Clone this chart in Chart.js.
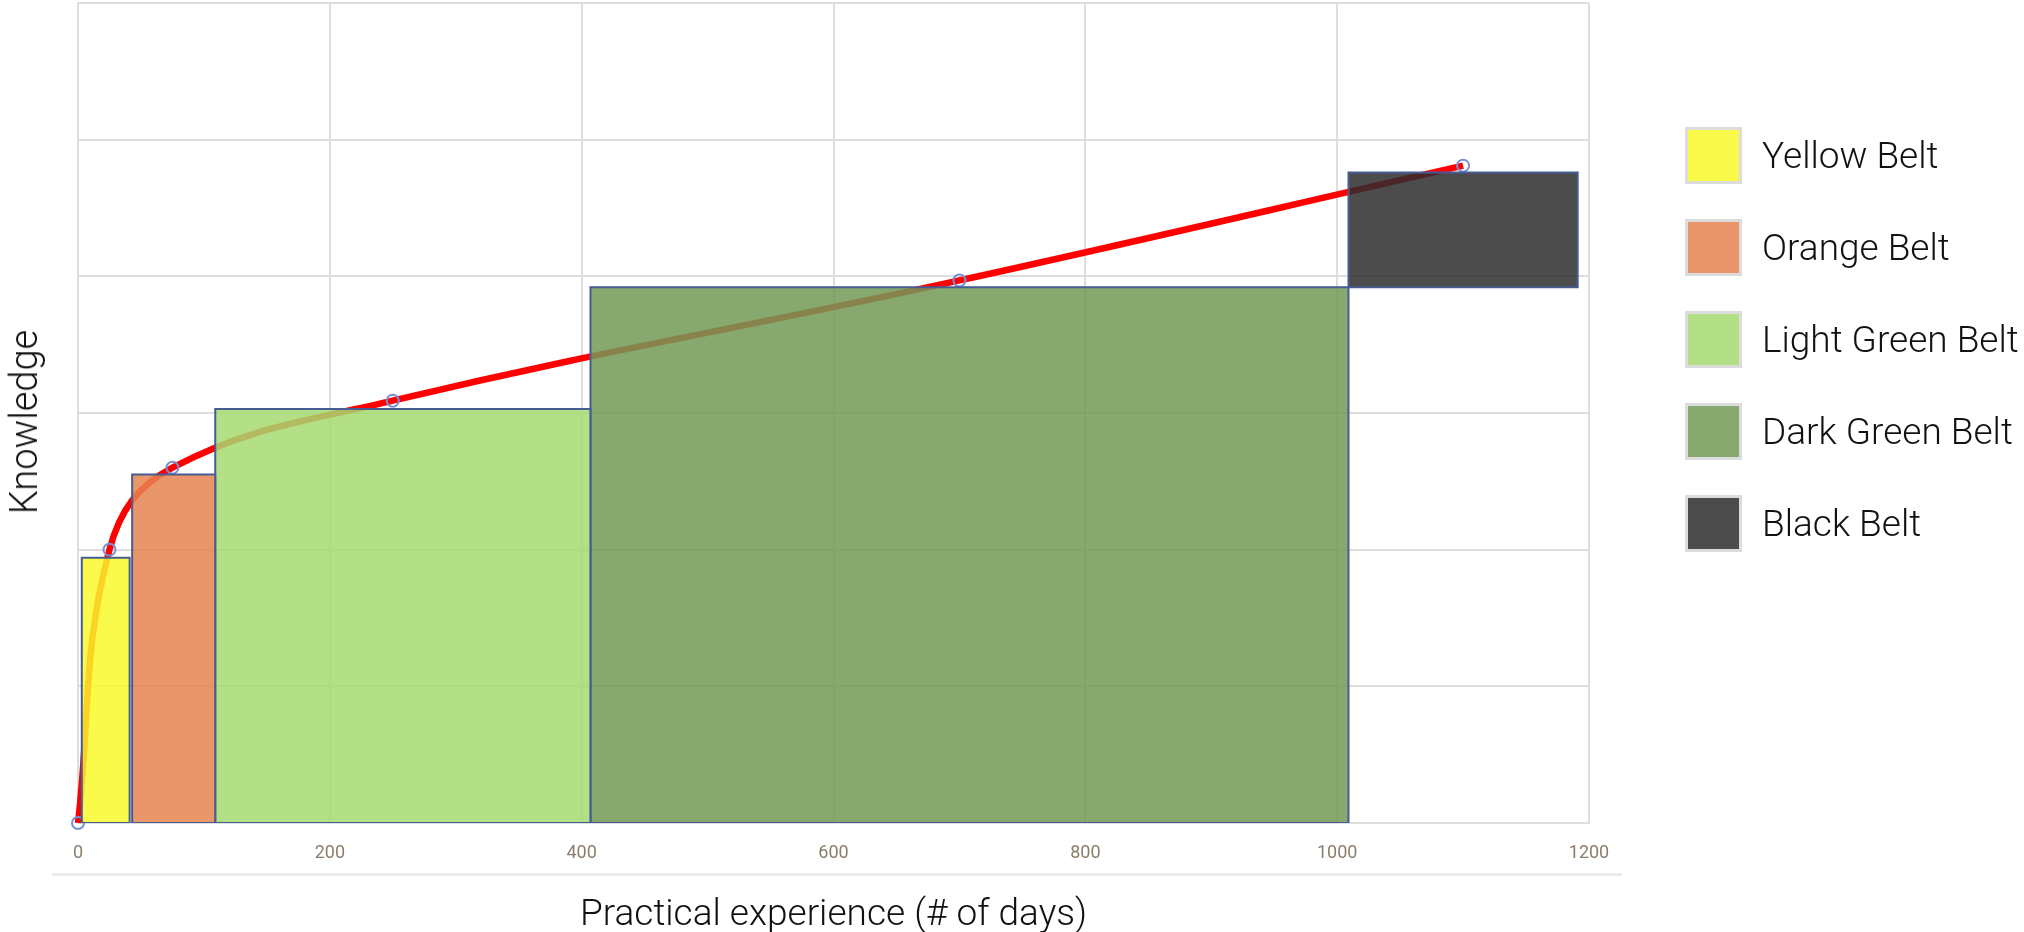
<!DOCTYPE html>
<html>
<head>
<meta charset="utf-8">
<script src="https://cdn.jsdelivr.net/npm/chart.js@4.4.1/dist/chart.umd.min.js"></script>
<style>
    html, body { margin: 0; padding: 0; background: #fff; }
    #wrap { position: relative; width: 2024px; height: 932px; overflow: hidden; }
    #beltChart { position: absolute; left: 0; top: -5px; }
    .rule { position: absolute; left: 52px; top: 873px; width: 1570px; height: 3px; background: #ebebeb; }
    .ytitle { position: absolute; left: 24px; top: 422px; transform: translate(-50%, -50%) rotate(-90deg);
              font-family: Roboto, sans-serif; font-weight: 300; font-size: 38px; color: #111; white-space: nowrap; }
    #legend { position: absolute; left: 1685px; top: 127px; font-family: Roboto, sans-serif; font-weight: 300; }
    .item { display: flex; align-items: center; height: 57px; margin-bottom: 35px; }
    .swatch { box-sizing: border-box; width: 57px; height: 57px; border: 3px solid #dcdcdc; margin-right: 20px; }
    .label { font-size: 37px; color: #111; white-space: nowrap; }
</style>
</head>
<body>
<div id="wrap">
    <div class="rule"></div>
    <canvas id="beltChart" width="2024" height="943"></canvas>
    <div class="ytitle">Knowledge</div>
    <div id="legend"></div>
</div>
<script>
// Belt blocks: x range in days, y range in knowledge units
const belts = ['Yellow Belt', 'Orange Belt', 'Light Green Belt', 'Dark Green Belt', 'Black Belt'];
const beltStart = [3, 43, 109, 407, 1009];
const beltEnd = [41, 109, 407, 1009, 1191];
const beltBottom = [0, 0, 0, 0, 39.2];
const beltTop = [19.4, 25.5, 30.3, 39.2, 47.6];
const beltColors = ['rgba(249,249,43,0.85)', 'rgba(229,133,80,0.85)', 'rgba(166,218,113,0.85)',
                    'rgba(114,154,87,0.85)', 'rgba(45,45,45,0.85)'];

// Knowledge curve
const experienceDays = [0, 25, 75, 250, 700, 1100];
const knowledge = [0, 20, 26, 30.9, 39.7, 48.1];

// Axis ticks
const xTicks = [0, 200, 400, 600, 800, 1000, 1200];

document.addEventListener('DOMContentLoaded', function() {
    const datasets = belts.map(function(name, i) {
        const pts = [
            { x: beltStart[i], y: beltBottom[i] },
            { x: beltStart[i], y: beltTop[i] },
            { x: beltEnd[i], y: beltTop[i] },
            { x: beltEnd[i], y: beltBottom[i] },
            { x: beltStart[i], y: beltBottom[i] }
        ];
        return {
            label: name,
            data: pts,
            fill: 'shape',
            backgroundColor: beltColors[i],
            borderColor: '#465c93',
            borderWidth: 2,
            borderJoinStyle: 'miter',
            pointRadius: 0,
            tension: 0
        };
    });

    // curve last so it is drawn first, under the translucent belts
    datasets.push({
        label: 'Knowledge',
        data: experienceDays.map((d, i) => ({ x: d, y: knowledge[i] })),
        borderColor: '#ff0000',
        borderWidth: 6.5,
        tension: 0.4,
        fill: false,
        pointRadius: 6,
        pointBorderColor: '#7690d6',
        pointBorderWidth: 2,
        pointBackgroundColor: 'rgba(0,0,0,0)',
        clip: false
    });

    const ctx = document.getElementById('beltChart').getContext('2d');
    new Chart(ctx, {
        type: 'line',
        data: { datasets: datasets },
        options: {
            responsive: false,
            animation: false,
            layout: { padding: { left: 78, right: 435, top: 0, bottom: 0 } },
            plugins: {
                legend: { display: false },
                tooltip: { enabled: false }
            },
            scales: {
                x: {
                    type: 'linear',
                    min: 0,
                    max: 1200,
                    afterBuildTicks: function(axis) {
                        axis.ticks = xTicks.map(v => ({ value: v }));
                    },
                    grid: { color: '#dedede', lineWidth: 2, drawTicks: false },
                    border: { color: '#dedede', width: 2 },
                    ticks: {
                        padding: 20,
                        color: '#8b7d6b',
                        font: { family: "'Liberation Sans Narrow', Roboto, sans-serif", size: 18 },
                        callback: function(value) { return String(value); }
                    },
                    title: {
                        display: true,
                        text: 'Practical experience (# of days)',
                        color: '#111',
                        font: { family: 'Roboto', weight: 300, size: 37 },
                        padding: { top: 9, bottom: 0 }
                    }
                },
                y: {
                    min: 0,
                    max: 60,
                    ticks: { display: false, stepSize: 10 },
                    grid: { color: '#dedede', lineWidth: 2, drawTicks: false },
                    border: { color: '#dedede', width: 2 },
                    title: { display: false }
                }
            }
        }
    });

    // Legend built from the belt arrays
    const legend = document.getElementById('legend');
    belts.forEach(function(name, i) {
        const item = document.createElement('div');
        item.className = 'item';
        item.innerHTML = '<div class="swatch" style="background:' + beltColors[i] + '"></div>' +
                         '<span class="label">' + name + '</span>';
        legend.appendChild(item);
    });
});
</script>
</body>
</html>
